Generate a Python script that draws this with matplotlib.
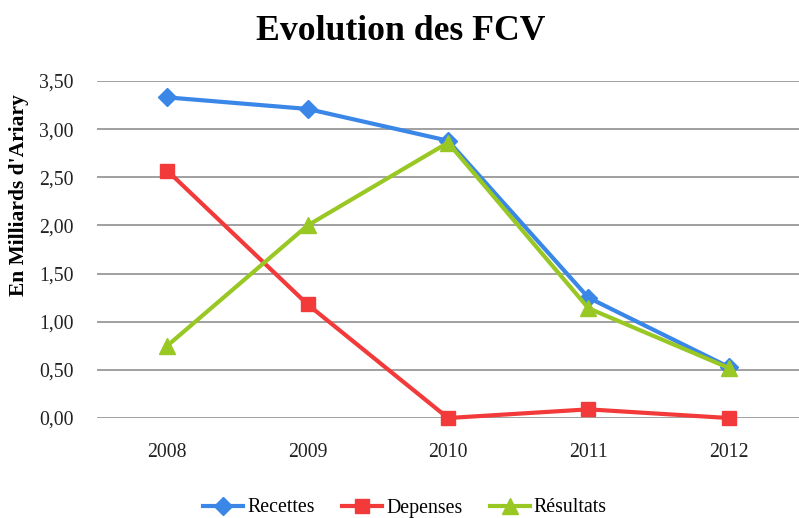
import numpy as np
import matplotlib.pyplot as plt

annees = ["2008", "2009", "2010", "2011", "2012"]
recettes = [3.33, 3.21, 2.88, 1.25, 0.53]
depenses = [2.57, 1.18, 0.0, 0.09, 0.0]
resultats = [0.75, 2.00, 2.86, 1.14, 0.52]
yticks = [0, 0.5, 1.0, 1.5, 2.0, 2.5, 3.0, 3.5]

plt.rcParams['font.family'] = ['Liberation Serif', 'DejaVu Serif']

fig = plt.figure(figsize=(7.99, 5.18), dpi=100)
ax = fig.add_axes([0.1214, 0.193, 0.8786, 0.6506])

x = np.arange(len(annees))
ax.plot(x, recettes, color='#3a87e8', lw=3, marker='D', ms=9, label='Recettes', zorder=3)
ax.plot(x, depenses, color='#f23a3a', lw=3, marker='s', ms=10, label='Depenses', zorder=4)
ax.plot(x, resultats, color='#99c824', lw=3, marker='^', ms=11, label='Résultats', zorder=5)

ax.set_xlim(-0.5, len(annees) - 0.5)
ax.set_ylim(0, 3.5)
ax.set_yticks(yticks)
ax.set_yticklabels([f"{v:.2f}".replace('.', ',') for v in yticks])
ax.set_xticks(x)
ax.set_xticklabels(annees)
ax.tick_params(axis='both', length=0, labelsize=14.2, colors='#222222')
ax.tick_params(axis='y', pad=17)
ax.tick_params(axis='x', pad=18)
ax.yaxis.grid(True, color='#999999', lw=1.3)
ax.set_axisbelow(True)
for s in ax.spines.values():
    s.set_visible(False)
for l in ax.lines:
    l.set_clip_on(False)

fig.text(19 / 799, 1 - 195 / 518, "En Milliards d'Ariary", rotation=90, ha='center', va='center',
         fontsize=15.5, fontweight='bold')
fig.text(401 / 799, 1 - 31 / 518, "Evolution des FCV", ha='center', va='center', fontsize=25.7, fontweight='bold')

fig.legend(loc='center', bbox_to_anchor=(405 / 799, 1 - 508 / 518), ncol=3, frameon=False,
           fontsize=14.3, handlelength=2.0, columnspacing=1.4, handletextpad=0.2)

fig.savefig('out.png', dpi=100)
